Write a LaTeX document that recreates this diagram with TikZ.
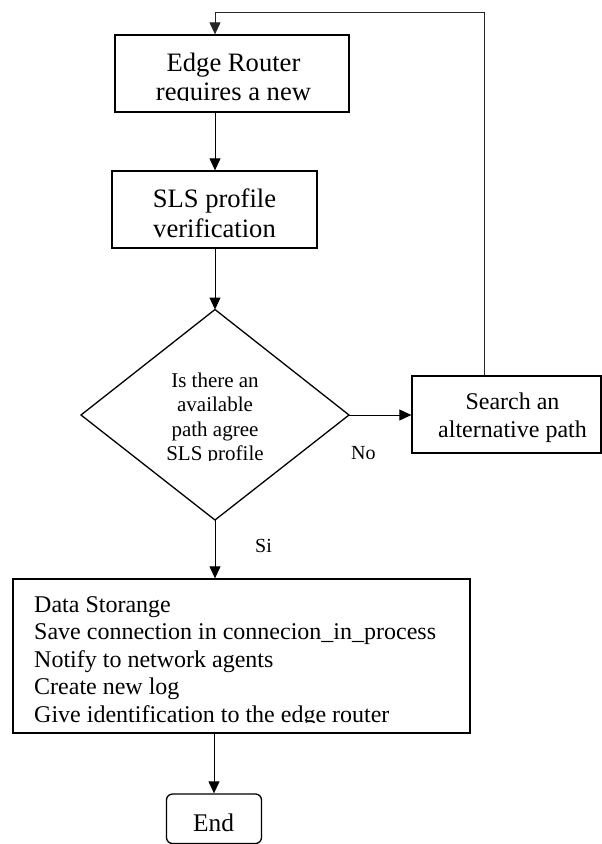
\documentclass[tikz,border=0pt]{standalone}
\usepackage{fontspec}
\setmainfont{Liberation Serif}
\usetikzlibrary{arrows.meta}

\tikzset{
  boxline/.style={draw=black, line width=1.3pt},
  procbox/.style={boxline, rectangle, inner sep=0pt},
  endbox/.style={boxline, rectangle, rounded corners=6pt, inner sep=0pt},
  conn/.style={draw=black, line width=1pt, -{Triangle[length=12pt,width=11pt]}},
  loopconn/.style={conn, draw=black!85},
  bigtxt/.style={inner sep=0pt, font=\fontsize{26.6}{30}\selectfont},
  midtxt/.style={inner sep=0pt, font=\fontsize{24}{27.5}\selectfont},
  smalltxt/.style={inner sep=0pt, font=\fontsize{21}{24}\selectfont},
  lbltxt/.style={inner sep=0pt, font=\fontsize{20}{23}\selectfont},
}

\begin{document}
\begin{tikzpicture}[x=1pt, y=-1pt]
\useasboundingbox (0,0) rectangle (602,844);

% process boxes
\node[procbox, minimum width=234pt, minimum height=77pt] (ebox) at (232,73.5) {};
\node[procbox, minimum width=205pt, minimum height=77pt] (sbox) at (214.5,209.5) {};
\node[procbox, minimum width=189pt, minimum height=77pt] (srch) at (506.5,414.5) {};
\node[procbox, minimum width=457pt, minimum height=154pt] (dbox) at (241.5,656) {};
\node[endbox, minimum width=95pt, minimum height=49.5pt] (endn) at (214,818.75) {};

% decision diamond
\coordinate (dt) at (215,309.5);
\coordinate (dr) at (349,415);
\coordinate (db) at (215,520);
\coordinate (dl) at (81,415);
\draw[boxline, line join=miter] (dt) -- (dr) -- (db) -- (dl) -- cycle;

% texts
\begin{scope}
  \clip (115,35) rectangle (349,100.8);
  \node[bigtxt, anchor=base] (e1) at (233.5,71) {Edge Router};
  \node[bigtxt, anchor=base] (e2) at (233.5,100) {requires a new};
\end{scope}
\node[bigtxt, anchor=base] (s1) at (214.5,207) {SLS profile};
\node[bigtxt, anchor=base] (s2) at (214.5,237) {verification};

\begin{scope}
  \clip (81,309) rectangle (349,460.6);
  \node[smalltxt, anchor=base] (q1) at (215,387) {Is there an};
  \node[smalltxt, anchor=base] (q2) at (215,411) {available};
  \node[smalltxt, anchor=base] (q3) at (215,436) {path agree};
  \node[smalltxt, anchor=base] (q4) at (215,460) {SLS profile};
\end{scope}

\node[midtxt, anchor=base] (a1) at (512.5,409) {Search an};
\node[midtxt, anchor=base] (a2) at (512.5,437) {alternative path};

\begin{scope}
  \clip (13,579) rectangle (470,722.6);
  \node[midtxt, anchor=base west] (d1) at (34,612) {Data Storange};
  \node[midtxt, anchor=base west] (d2) at (34,639.5) {Save connection in connecion\_in\_process};
  \node[midtxt, anchor=base west] (d3) at (34,667) {Notify to network agents};
  \node[midtxt, anchor=base west] (d4) at (34,694.5) {Create new log};
  \node[midtxt, anchor=base west] (d5) at (34,722) {Give identification to the edge router};
\end{scope}

\node[bigtxt, anchor=base, font=\fontsize{25.4}{29}\selectfont] (t1) at (213.5,831) {End};

\node[lbltxt, anchor=base west] (lno) at (351,459) {No};
\node[lbltxt, anchor=base west] (lsi) at (255,552) {Si};

% connectors
\coordinate (col) at (215,0);
\coordinate (loopx) at (484,12);
\draw[conn] (ebox.south -| col) -- (sbox.north -| col);
\draw[conn] (sbox.south -| col) -- (dt);
\draw[conn] (dr) -- (srch.west |- dr);
\draw[conn] (db) -- (dbox.north -| db);
\draw[conn] (dbox.south -| endn.north) -- (endn.north);
\draw[loopconn] (srch.north -| loopx) -- (loopx) -- (loopx -| col) -- (ebox.north -| col);
\end{tikzpicture}
\end{document}
